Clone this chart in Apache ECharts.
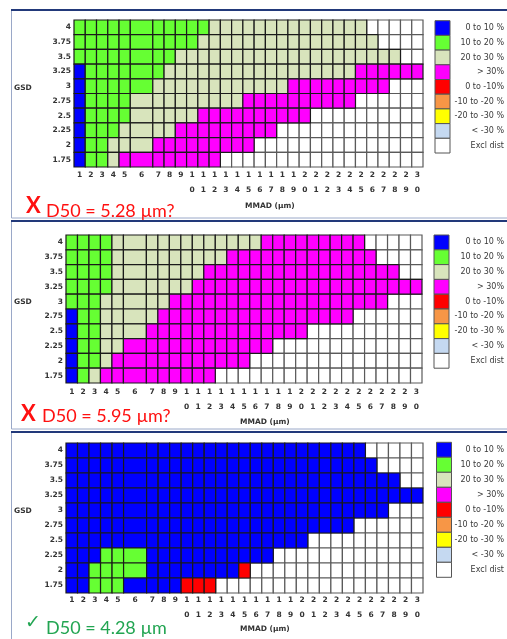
<!DOCTYPE html>
<html>
<head>
<meta charset="utf-8">
<script src="https://cdn.jsdelivr.net/npm/echarts@6/dist/echarts.min.js"></script>
<style>
  html, body { margin: 0; padding: 0; background: #ffffff; }
  #chart { width: 507px; height: 639px; }
</style>
</head>
<body>
<div id="chart"></div>
<script>
// GSD rows, bottom to top
const gsdLabels = ['1.75', '2', '2.25', '2.5', '2.75', '3', '3.25', '3.5', '3.75', '4'];
// MMAD columns (µm)
const mmadLabels = ['1','2','3','4','5','6','7','8','9','10','11','12','13','14','15',
  '16','17','18','19','20','21','22','23','24','25','26','27','28','29','30'];

// Deviation bands
const bandNames = ['0 to 10 %', '10 to 20 %', '20 to 30 %', '> 30%', '0 to -10%',
  '-10 to -20 %', '-20 to -30 %', '< -30 %', 'Excl dist'];
const bandCodes = ['B', 'G', 'T', 'M', 'R', 'O', 'Y', 'L', 'W'];
const bandColors = ['#0000ff', '#66ff33', '#d8e4bc', '#ff00ff', '#ff0000',
  '#f79646', '#ffff00', '#c5d9f1', '#ffffff'];

// Band per cell, one row per GSD from 4 down to 1.75, one letter per MMAD column
const panelA = [
  'GGGGGGGGGGGTTTTTTTTTTTTTTWWWWW',
  'GGGGGGGGGGTTTTTTTTTTTTTTTTWWWW',
  'GGGGGGGGTTTTTTTTTTTTTTTTTTTTWW',
  'BGGGGGGTTTTTTTTTTTTTTTTTMMMMMM',
  'BGGGGGTTTTTTTTTTTTMMMMMMMMMWWW',
  'BGGGGTTTTTTTTTMMMMMMMMMMWWWWWW',
  'BGGGGTTTTTMMMMMMMMMMWWWWWWWWWW',
  'BGGGTTTTMMMMMMMMMWWWWWWWWWWWWW',
  'BGGTTTMMMMMMMMMWWWWWWWWWWWWWWW',
  'BGGTMMMMMMMMWWWWWWWWWWWWWWWWWW'
];
const panelB = [
  'GGGGTTTTTTTTTTTTMMMMMMMMMWWWWW',
  'GGGGTTTTTTTTTMMMMMMMMMMMMMWWWW',
  'GGGGTTTTTTTMMMMMMMMMMMMMMMMMWW',
  'GGGGTTTTTTMMMMMMMMMMMMMMMMMMMM',
  'GGGTTTTTMMMMMMMMMMMMMMMMMMMWWW',
  'BGGTTTTMMMMMMMMMMMMMMMMMWWWWWW',
  'BGGTTTMMMMMMMMMMMMMMWWWWWWWWWW',
  'BGGTTMMMMMMMMMMMMWWWWWWWWWWWWW',
  'BGGTMMMMMMMMMMMWWWWWWWWWWWWWWW',
  'BGTMMMMMMMMMWWWWWWWWWWWWWWWWWW'
];
const panelC = [
  'BBBBBBBBBBBBBBBBBBBBBBBBBWWWWW',
  'BBBBBBBBBBBBBBBBBBBBBBBBBBWWWW',
  'BBBBBBBBBBBBBBBBBBBBBBBBBBBBWW',
  'BBBBBBBBBBBBBBBBBBBBBBBBBBBBBB',
  'BBBBBBBBBBBBBBBBBBBBBBBBBBBWWW',
  'BBBBBBBBBBBBBBBBBBBBBBBBWWWWWW',
  'BBBBBBBBBBBBBBBBBBBBWWWWWWWWWW',
  'BBBGGGBBBBBBBBBBBWWWWWWWWWWWWW',
  'BBGGGGBBBBBBBBRWWWWWWWWWWWWWWW',
  'BBGGGBBBBRRRWWWWWWWWWWWWWWWWWW'
];

const panelTitles = ['D50 = 5.28 µm?', 'D50 = 5.95 µm?', 'D50 = 4.28 µm'];
const panelVerdicts = ['X', 'X', '✓'];

// Column widths in axis units: the MMAD 6 column is drawn double width
const colSpan = mmadLabels.map(l => (l === '6' ? 2 : 1));
const colStart = [];
let acc = 0;
colSpan.forEach(s => { colStart.push(acc); acc += s; });
const xMax = acc;

function cellsFor(rows) {
  const out = [];
  rows.forEach((row, r) => {
    const rowIdx = gsdLabels.length - 1 - r;
    for (let c = 0; c < row.length; c++) {
      const band = bandCodes.indexOf(row[c]);
      out.push([colStart[c], colStart[c] + colSpan[c], rowIdx, band]);
    }
  });
  return out;
}

function tickText(v) {
  const c = colStart.findIndex((s, i) => Math.abs(s + colSpan[i] / 2 - v) < 1e-6);
  if (c < 0) return '';
  return mmadLabels[c].split('').join('\n');
}

const layout = [
  { grid: { left: 74, top: 20, width: 349, height: 147 }, xMargin: 1, legend: { x: 435, y: 20.7, pitch: 14.7 },
    gsdY: 88, mmad: { x: 245, y: 206 }, frame: { y: 10, h: 208 },
    verdict: { x: 26, y: 206, color: '#ff1010' }, title: { x: 46, y: 211 } },
  { grid: { left: 66, top: 235, width: 356, height: 148 }, xMargin: 2, legend: { x: 434, y: 235, pitch: 14.8 },
    gsdY: 301.6, mmad: { x: 240, y: 421.7 }, frame: { y: 221, h: 208 },
    verdict: { x: 21, y: 414, color: '#ff1010' }, title: { x: 42, y: 416.5 } },
  { grid: { left: 66, top: 443, width: 357, height: 150 }, xMargin: 0, legend: { x: 436.5, y: 442.3, pitch: 15 },
    gsdY: 511, mmad: { x: 240, y: 629 }, frame: { y: 432, h: 212 },
    verdict: { x: 25, y: 623, color: '#22a552' }, title: { x: 46, y: 628.5 } }
];
const panels = [panelA, panelB, panelC];

const labelFont = 'DejaVu Sans';
const grids = [], xAxes = [], yAxes = [], series = [], graphics = [];

panels.forEach((rows, i) => {
  const L = layout[i];
  grids.push(Object.assign({ containLabel: false }, L.grid));
  xAxes.push({
    gridIndex: i, type: 'value', min: 0, max: xMax, interval: 0.5,
    axisLine: { show: false }, axisTick: { show: false }, splitLine: { show: false },
    axisLabel: {
      formatter: tickText, fontSize: 7.5, fontWeight: 'bold', fontFamily: labelFont,
      color: '#333', lineHeight: 15, margin: L.xMargin, showMinLabel: false, showMaxLabel: false
    }
  });
  yAxes.push({
    gridIndex: i, type: 'category', data: gsdLabels,
    axisLine: { show: false }, axisTick: { show: false }, splitLine: { show: false },
    axisLabel: { fontSize: 7.5, fontWeight: 'bold', fontFamily: labelFont, color: '#333', margin: 3 }
  });
  series.push({
    type: 'custom', xAxisIndex: i, yAxisIndex: i,
    encode: { x: [0, 1], y: 2 },
    data: cellsFor(rows),
    renderItem: (params, api) => {
      const x0 = api.value(0), x1 = api.value(1), row = api.value(2), band = api.value(3);
      const a = api.coord([x0, row]);
      const b = api.coord([x1, row]);
      const h = api.size([0, 1])[1];
      const excluded = bandCodes[band] === 'W';
      return {
        type: 'rect', z2: excluded ? 0 : 1,
        shape: { x: a[0], y: a[1] - h / 2, width: b[0] - a[0], height: h },
        style: { fill: bandColors[band], stroke: excluded ? '#5a5a5a' : '#1a1a1a', lineWidth: 1.2 }
      };
    }
  });

  // panel frame
  graphics.push({ type: 'rect', shape: { x: 11.5, y: L.frame.y, width: 500, height: L.frame.h },
    style: { fill: 'none', stroke: '#9aa8c8', lineWidth: 1 }, z: 0 });
  graphics.push({ type: 'line', shape: { x1: 11, y1: L.frame.y, x2: 507, y2: L.frame.y },
    style: { stroke: '#22397a', lineWidth: 2 }, z: 1 });

  // band key
  bandNames.forEach((name, k) => {
    const y = L.legend.y + k * L.legend.pitch;
    graphics.push({ type: 'rect', shape: { x: L.legend.x, y: y, width: 15, height: L.legend.pitch },
      style: { fill: bandColors[k], stroke: '#555', lineWidth: 1 }, z: 5 });
    graphics.push({ type: 'text', z: 5, style: { text: name, x: 504, y: y + L.legend.pitch / 2,
      textAlign: 'right', textVerticalAlign: 'middle', align: 'right', verticalAlign: 'middle',
      font: '8px "DejaVu Sans"', fill: '#3a3a3a' } });
  });

  // axis titles
  graphics.push({ type: 'text', z: 5, style: { text: 'GSD', x: 14, y: L.gsdY,
    textVerticalAlign: 'middle', verticalAlign: 'middle', font: 'bold 7.5px "DejaVu Sans"', fill: '#333' } });
  graphics.push({ type: 'text', z: 5, style: { text: 'MMAD (µm)', x: L.mmad.x, y: L.mmad.y,
    textVerticalAlign: 'middle', verticalAlign: 'middle', font: 'bold 7.5px "DejaVu Sans"', fill: '#333' } });

  // result caption
  const ok = panelVerdicts[i] === '✓';
  graphics.push({ type: 'text', z: 5, style: { text: panelVerdicts[i], x: L.verdict.x, y: L.verdict.y,
    textVerticalAlign: 'middle', verticalAlign: 'middle',
    font: ok ? '19px "DejaVu Sans"' : 'bold 22px Lato', fill: L.verdict.color } });
  graphics.push({ type: 'text', z: 5, style: { text: panelTitles[i], x: L.title.x, y: L.title.y,
    textVerticalAlign: 'middle', verticalAlign: 'middle',
    font: '18px Lato', fill: L.verdict.color } });
});

const chart = echarts.init(document.getElementById('chart'), null, { renderer: 'canvas' });
chart.setOption({
  animation: false,
  backgroundColor: '#ffffff',
  grid: grids,
  xAxis: xAxes,
  yAxis: yAxes,
  series: series,
  graphic: { elements: graphics }
});
</script>
</body>
</html>
